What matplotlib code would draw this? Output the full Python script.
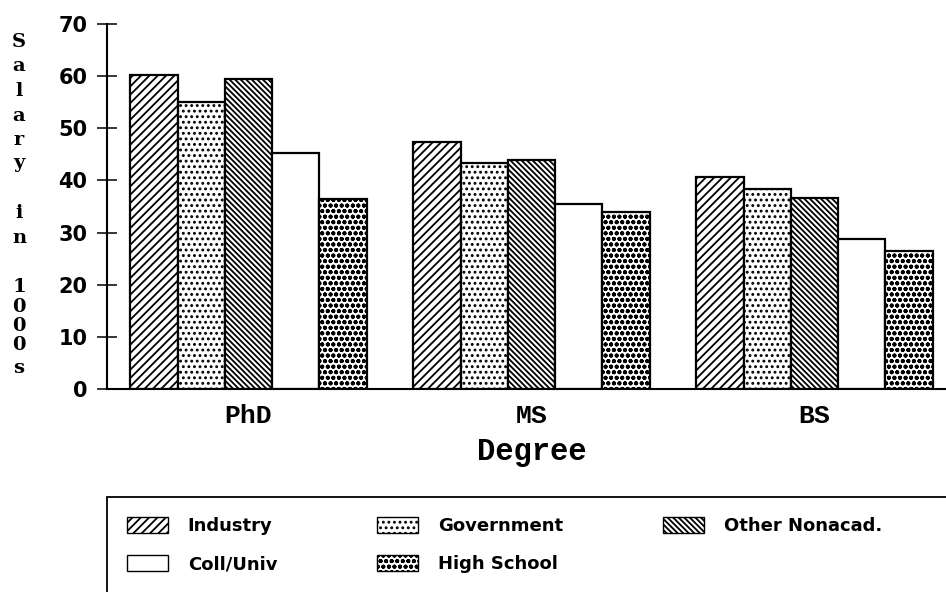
import numpy as np
import matplotlib.pyplot as plt
from matplotlib.patches import Rectangle, Patch

# ______________________data____________________________

degrees = ["PhD", "MS", "BS"]
employers = ["Industry", "Government", "Other Nonacad.", "Coll/Univ", "High School"]

industry = [60.2, 47.4, 40.7]
government = [55.1, 43.4, 38.4]
other_nonacad = [59.4, 43.9, 36.7]
coll_univ = [45.3, 35.5, 28.7]
high_school = [36.4, 34.0, 26.5]

yticks = [0, 10, 20, 30, 40, 50, 60, 70]

# hatch for every series (white fill, black ink)
hatches = ["////", "...", "\\\\\\\\\\\\", "", "ooo"]

plt.rcParams["hatch.linewidth"] = 1.3
plt.rcParams["hatch.color"] = "black"

fig = plt.figure(figsize=(9.46, 5.92), dpi=100)
W, H = 946.0, 592.0

# axes: left spine at x=107px, x-axis at y=389px, top (70) at y=24px
ax = fig.add_axes([107 / W, (H - 389) / H, 849 / W, (389 - 24) / H])

series = [industry, government, other_nonacad, coll_univ, high_school]
x = np.arange(len(degrees))
width = 0.167

for i in range(len(series)):
    off = (i - 2) * width
    ax.bar(x + off, series[i], width,
           color="white", edgecolor="black", linewidth=1.6,
           hatch=hatches[i], label=employers[i], zorder=2)

ax.set_xlim(-0.5, 2.5)
ax.set_ylim(0, 70)

"""
    axes look
"""
ax.spines["top"].set_visible(False)
ax.spines["right"].set_visible(False)
ax.spines["left"].set_linewidth(1.5)
ax.spines["bottom"].set_linewidth(1.5)

ax.set_yticks(yticks)
ax.set_yticklabels([str(v) for v in yticks], fontsize=15, fontweight="bold",
                   family="DejaVu Sans")
ax.tick_params(axis="y", direction="inout", length=14.4, width=1.1, pad=7)

ax.set_xticks(x)
ax.set_xticklabels(degrees, fontsize=19, fontweight="bold",
                   family="Liberation Mono")
ax.tick_params(axis="x", length=0, pad=11)

ax.set_xlabel("Degree", fontsize=22, fontweight="bold",
              family="Liberation Mono", labelpad=6)

"""
    y label, one letter under the other
"""
ylab_chars = ["S", "a", "l", "a", "r", "y", "i", "n", "1", "0", "0", "0", "s"]
ylab_ypix = [42, 66, 91, 116, 140, 163, 213, 238, 287, 307, 326, 345, 368]
for ch, yp in zip(ylab_chars, ylab_ypix):
    fig.text(19 / W, 1 - yp / H, ch, fontsize=14, fontweight="heavy",
             family="DejaVu Serif", ha="center", va="center")

"""
    legend: open box at the bottom, filled row by row
"""
fig.add_artist(Rectangle((107 / W, -0.05), 1.0, (H - 497) / H + 0.05,
                         transform=fig.transFigure, fill=False,
                         edgecolor="black", linewidth=1.3))

handles = []
for i in range(len(employers)):
    handles.append(Patch(facecolor="white", edgecolor="black", linewidth=1.0,
                         hatch=hatches[i], label=employers[i]))
# matplotlib fills columns first -> reorder to get rows like the original
order = [0, 3, 1, 4, 2]
fig.legend([handles[k] for k in order], [employers[k] for k in order],
           ncol=3, loc="upper left",
           bbox_to_anchor=(127 / W, 1 - 517 / H),
           frameon=False, borderpad=0, borderaxespad=0,
           prop={"family": "DejaVu Sans", "weight": "bold", "size": 13},
           handlelength=2.27, handleheight=1.0, handletextpad=1.1,
           labelspacing=1.1, columnspacing=5.54)

fig.savefig("out.png", dpi=100)
